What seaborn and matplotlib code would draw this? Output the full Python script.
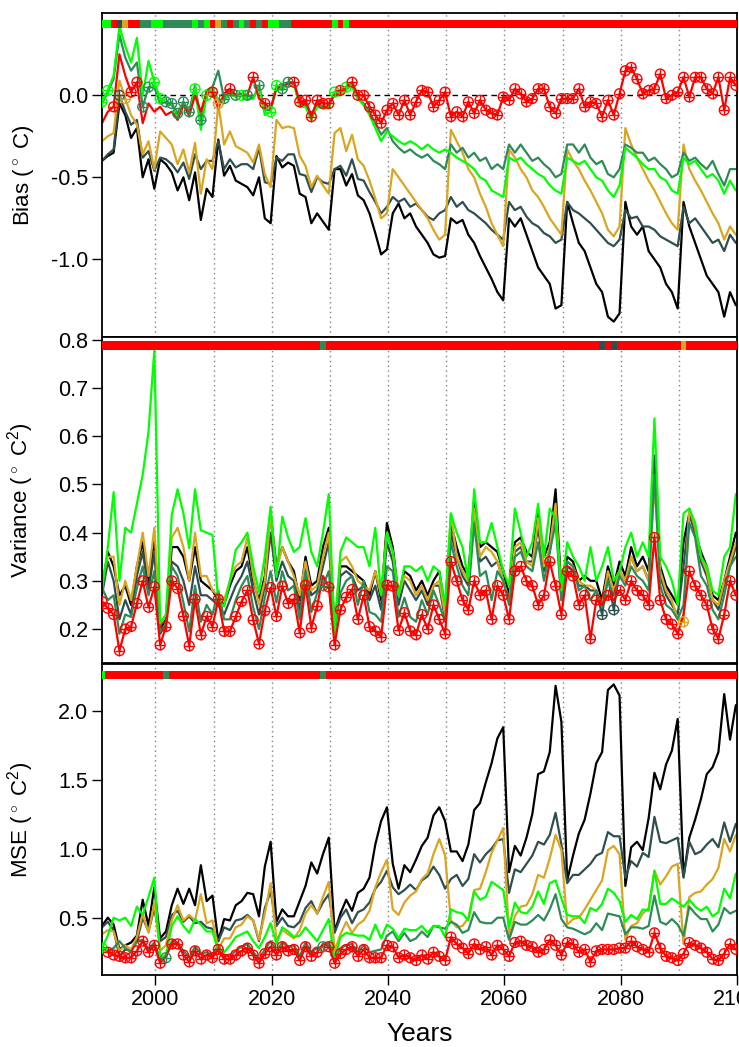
import numpy as np
import pandas as pd
import matplotlib
matplotlib.use('Agg')
import matplotlib.pyplot as plt
import seaborn as sns

# years 1991-2100, one value per year, rows are decades
years = np.arange(1991, 2101)
methods = ['black', 'darkslate', 'goldenrod', 'seagreen', 'green', 'red']
colours = {'black': '#000000', 'darkslate': '#2F4F4F', 'goldenrod': '#DAA520',
           'seagreen': '#2E8B57', 'green': '#00FF00', 'red': '#FF0000'}
code = {'k': 'black', 'd': 'darkslate', 'o': 'goldenrod', 's': 'seagreen', 'g': 'green', 'r': 'red'}

# ---- bias ----
bias_black = [
    -0.40, -0.37, -0.35, -0.05, -0.12, -0.26, -0.20, -0.50, -0.39, -0.57,
    -0.39, -0.42, -0.47, -0.58, -0.50, -0.64, -0.47, -0.76, -0.57, -0.62,
    -0.27, -0.49, -0.43, -0.52, -0.54, -0.56, -0.61, -0.50, -0.75, -0.78,
    -0.37, -0.44, -0.41, -0.43, -0.60, -0.62, -0.78, -0.72, -0.77, -0.82,
    -0.45, -0.45, -0.55, -0.48, -0.61, -0.64, -0.72, -0.84, -0.97, -0.94,
    -0.72, -0.66, -0.75, -0.72, -0.80, -0.85, -0.90, -0.97, -0.99, -0.98,
    -0.75, -0.78, -0.76, -0.85, -0.90, -0.98, -1.05, -1.12, -1.20, -1.25,
    -0.75, -0.80, -0.75, -0.85, -0.95, -1.05, -1.10, -1.15, -1.30, -1.28,
    -0.65, -0.78, -0.90, -0.95, -1.05, -1.15, -1.20, -1.35, -1.38, -1.33,
    -0.65, -0.80, -0.85, -0.80, -0.95, -1.00, -1.05, -1.15, -1.20, -1.30,
    -0.65, -0.80, -0.90, -1.00, -1.10, -1.15, -1.20, -1.35, -1.20, -1.28]
bias_darkslate = [
    -0.40, -0.36, -0.33, 0.00, -0.10, -0.18, -0.15, -0.38, -0.34, -0.46,
    -0.38, -0.39, -0.42, -0.47, -0.41, -0.51, -0.36, -0.45, -0.40, -0.40,
    -0.28, -0.45, -0.39, -0.44, -0.42, -0.42, -0.45, -0.32, -0.53, -0.54,
    -0.38, -0.40, -0.36, -0.36, -0.48, -0.49, -0.59, -0.50, -0.53, -0.54,
    -0.45, -0.43, -0.49, -0.39, -0.51, -0.52, -0.59, -0.65, -0.72, -0.68,
    -0.62, -0.65, -0.63, -0.68, -0.66, -0.70, -0.74, -0.76, -0.72, -0.70,
    -0.62, -0.68, -0.65, -0.70, -0.72, -0.75, -0.78, -0.82, -0.85, -0.88,
    -0.65, -0.70, -0.68, -0.74, -0.78, -0.80, -0.84, -0.86, -0.90, -0.88,
    -0.65, -0.70, -0.72, -0.75, -0.78, -0.82, -0.86, -0.90, -0.92, -0.88,
    -0.70, -0.75, -0.74, -0.80, -0.80, -0.82, -0.86, -0.88, -0.90, -0.92,
    -0.68, -0.78, -0.75, -0.80, -0.85, -0.90, -0.88, -0.95, -0.85, -0.90]
bias_goldenrod = [
    -0.28, -0.25, -0.23, 0.09, -0.02, -0.12, -0.18, -0.36, -0.28, -0.45,
    -0.22, -0.26, -0.30, -0.42, -0.33, -0.47, -0.29, -0.60, -0.39, -0.45,
    -0.05, -0.30, -0.22, -0.31, -0.33, -0.35, -0.41, -0.30, -0.48, -0.56,
    -0.15, -0.20, -0.19, -0.20, -0.37, -0.43, -0.56, -0.49, -0.55, -0.60,
    -0.23, -0.20, -0.34, -0.24, -0.39, -0.43, -0.52, -0.63, -0.75, -0.72,
    -0.45, -0.50, -0.55, -0.60, -0.65, -0.70, -0.75, -0.82, -0.88, -0.85,
    -0.21, -0.28, -0.35, -0.45, -0.50, -0.60, -0.68, -0.78, -0.85, -0.92,
    -0.33, -0.38, -0.45, -0.50, -0.58, -0.62, -0.68, -0.75, -0.80, -0.85,
    -0.33, -0.40, -0.45, -0.52, -0.58, -0.65, -0.72, -0.82, -0.86, -0.80,
    -0.20, -0.30, -0.38, -0.45, -0.52, -0.58, -0.65, -0.72, -0.78, -0.82,
    -0.30, -0.45, -0.52, -0.58, -0.65, -0.72, -0.78, -0.88, -0.80, -0.85]
bias_seagreen = [
    -0.05, 0.02, 0.10, 0.37, 0.23, 0.15, 0.20, -0.07, 0.05, 0.05,
    -0.05, -0.04, -0.05, -0.11, -0.04, -0.10, 0.06, -0.15, 0.03, 0.05,
    0.15, -0.02, 0.03, 0.00, 0.01, 0.00, -0.02, 0.06, -0.09, -0.09,
    0.06, 0.04, 0.08, 0.08, -0.06, -0.05, -0.12, -0.05, -0.07, -0.07,
    0.02, 0.01, 0.04, 0.06, -0.02, -0.05, -0.10, -0.17, -0.24, -0.20,
    -0.28, -0.32, -0.35, -0.33, -0.36, -0.38, -0.36, -0.40, -0.42, -0.45,
    -0.30, -0.35, -0.32, -0.38, -0.35, -0.40, -0.38, -0.45, -0.42, -0.45,
    -0.30, -0.35, -0.30, -0.35, -0.40, -0.38, -0.42, -0.45, -0.50, -0.48,
    -0.30, -0.30, -0.35, -0.30, -0.38, -0.42, -0.40, -0.48, -0.50, -0.45,
    -0.30, -0.32, -0.35, -0.35, -0.40, -0.38, -0.42, -0.45, -0.50, -0.48,
    -0.35, -0.40, -0.38, -0.42, -0.45, -0.40, -0.48, -0.55, -0.45, -0.45]
bias_green = [
    -0.04, 0.03, 0.12, 0.42, 0.30, 0.20, 0.35, 0.00, 0.21, 0.08,
    -0.02, -0.05, -0.06, -0.13, -0.05, -0.13, 0.04, -0.21, 0.00, 0.05,
    -0.03, -0.03, 0.01, -0.01, 0.00, -0.02, -0.02, 0.05, -0.12, -0.10,
    0.06, 0.03, 0.08, 0.07, -0.07, -0.07, -0.15, -0.07, -0.08, -0.08,
    0.02, 0.00, 0.05, 0.05, -0.02, -0.06, -0.12, -0.20, -0.28, -0.22,
    -0.25, -0.28, -0.30, -0.28, -0.30, -0.33, -0.30, -0.33, -0.35, -0.33,
    -0.35, -0.38, -0.40, -0.42, -0.45, -0.50, -0.52, -0.58, -0.60, -0.62,
    -0.38, -0.40, -0.38, -0.42, -0.45, -0.48, -0.50, -0.55, -0.58, -0.60,
    -0.38, -0.40, -0.42, -0.40, -0.45, -0.50, -0.52, -0.58, -0.62, -0.55,
    -0.32, -0.35, -0.38, -0.42, -0.45, -0.45, -0.50, -0.52, -0.58, -0.60,
    -0.38, -0.42, -0.40, -0.45, -0.50, -0.48, -0.52, -0.60, -0.52, -0.58]
bias_red = [
    -0.17, -0.10, -0.07, 0.25, 0.12, 0.02, 0.08, -0.17, -0.05, -0.10,
    -0.07, -0.12, -0.10, -0.15, -0.06, -0.12, 0.00, -0.10, 0.02, 0.02,
    -0.08, 0.01, 0.04, 0.00, 0.00, 0.00, 0.11, -0.02, -0.05, -0.08,
    0.04, 0.06, 0.07, 0.08, -0.04, -0.03, -0.13, -0.03, -0.05, -0.05,
    0.00, 0.03, 0.05, 0.08, 0.00, 0.00, -0.07, -0.12, -0.17, -0.09,
    -0.05, -0.12, -0.03, -0.12, -0.04, 0.03, 0.02, -0.07, -0.03, 0.02,
    -0.13, -0.10, -0.13, -0.04, -0.11, -0.03, -0.09, -0.11, -0.12, -0.01,
    -0.03, 0.04, 0.01, -0.04, -0.02, 0.04, 0.04, -0.07, -0.11, -0.02,
    -0.02, -0.02, 0.04, -0.07, -0.04, -0.05, -0.13, -0.03, -0.12, 0.01,
    0.15, 0.17, 0.10, 0.01, 0.03, 0.04, 0.13, -0.02, 0.00, 0.02,
    0.11, -0.01, 0.11, 0.11, 0.04, 0.01, 0.11, -0.09, 0.11, 0.06]

# ---- variance ----
var_black = [
    0.28, 0.36, 0.33, 0.27, 0.29, 0.25, 0.33, 0.38, 0.29, 0.39,
    0.20, 0.22, 0.37, 0.37, 0.35, 0.30, 0.37, 0.30, 0.29, 0.28,
    0.26, 0.25, 0.29, 0.32, 0.33, 0.37, 0.30, 0.26, 0.31, 0.44,
    0.33, 0.37, 0.34, 0.32, 0.26, 0.35, 0.29, 0.30, 0.37, 0.41,
    0.20, 0.33, 0.33, 0.32, 0.31, 0.30, 0.27, 0.32, 0.26, 0.42,
    0.37, 0.27, 0.32, 0.31, 0.28, 0.30, 0.27, 0.30, 0.32, 0.24,
    0.42, 0.37, 0.33, 0.31, 0.47, 0.37, 0.38, 0.37, 0.36, 0.32,
    0.27, 0.38, 0.39, 0.36, 0.35, 0.44, 0.35, 0.38, 0.49, 0.28,
    0.35, 0.34, 0.30, 0.31, 0.30, 0.30, 0.26, 0.33, 0.29, 0.34,
    0.31, 0.37, 0.33, 0.35, 0.32, 0.55, 0.33, 0.29, 0.27, 0.25,
    0.38, 0.44, 0.40, 0.36, 0.33, 0.27, 0.26, 0.30, 0.35, 0.40]
var_darkslate = [
    0.270, 0.340, 0.300, 0.220, 0.260, 0.230, 0.310, 0.360, 0.280, 0.360,
    0.190, 0.210, 0.340, 0.330, 0.300, 0.250, 0.330, 0.270, 0.270, 0.260,
    0.250, 0.230, 0.260, 0.290, 0.310, 0.340, 0.280, 0.230, 0.290, 0.400,
    0.300, 0.340, 0.310, 0.300, 0.240, 0.330, 0.270, 0.280, 0.330, 0.380,
    0.190, 0.310, 0.320, 0.310, 0.280, 0.290, 0.260, 0.290, 0.240, 0.380,
    0.340, 0.250, 0.300, 0.280, 0.260, 0.280, 0.250, 0.290, 0.290, 0.220,
    0.400, 0.350, 0.310, 0.290, 0.440, 0.340, 0.350, 0.330, 0.340, 0.300,
    0.260, 0.360, 0.370, 0.340, 0.340, 0.410, 0.320, 0.360, 0.450, 0.260,
    0.330, 0.320, 0.290, 0.290, 0.280, 0.280, 0.230, 0.310, 0.240, 0.320,
    0.300, 0.350, 0.320, 0.330, 0.300, 0.560, 0.310, 0.270, 0.250, 0.230,
    0.330, 0.440, 0.400, 0.340, 0.310, 0.260, 0.240, 0.290, 0.330, 0.370]
var_goldenrod = [
    0.30, 0.35, 0.35, 0.25, 0.30, 0.26, 0.33, 0.40, 0.31, 0.41,
    0.21, 0.23, 0.39, 0.41, 0.37, 0.30, 0.40, 0.31, 0.31, 0.28,
    0.27, 0.26, 0.30, 0.33, 0.34, 0.39, 0.31, 0.25, 0.30, 0.44,
    0.32, 0.37, 0.34, 0.31, 0.27, 0.34, 0.28, 0.29, 0.35, 0.40,
    0.21, 0.34, 0.35, 0.33, 0.30, 0.29, 0.28, 0.32, 0.27, 0.40,
    0.36, 0.27, 0.31, 0.30, 0.27, 0.29, 0.26, 0.29, 0.30, 0.23,
    0.44, 0.35, 0.32, 0.30, 0.45, 0.35, 0.37, 0.36, 0.34, 0.30,
    0.26, 0.37, 0.38, 0.34, 0.33, 0.43, 0.33, 0.37, 0.46, 0.27,
    0.34, 0.33, 0.30, 0.29, 0.29, 0.28, 0.25, 0.32, 0.28, 0.32,
    0.30, 0.35, 0.32, 0.33, 0.30, 0.50, 0.32, 0.28, 0.26, 0.22,
    0.215, 0.45, 0.41, 0.35, 0.32, 0.26, 0.25, 0.30, 0.34, 0.38]
var_seagreen = [
    0.285, 0.260, 0.270, 0.190, 0.230, 0.225, 0.285, 0.330, 0.270, 0.320,
    0.195, 0.210, 0.330, 0.310, 0.255, 0.195, 0.290, 0.215, 0.250, 0.230,
    0.280, 0.220, 0.220, 0.260, 0.290, 0.310, 0.245, 0.200, 0.265, 0.320,
    0.255, 0.320, 0.280, 0.290, 0.220, 0.320, 0.235, 0.275, 0.290, 0.320,
    0.195, 0.275, 0.300, 0.310, 0.250, 0.300, 0.235, 0.230, 0.215, 0.330,
    0.320, 0.225, 0.265, 0.225, 0.215, 0.260, 0.230, 0.280, 0.250, 0.215,
    0.380, 0.330, 0.290, 0.270, 0.420, 0.310, 0.320, 0.260, 0.320, 0.300,
    0.250, 0.350, 0.360, 0.330, 0.320, 0.380, 0.300, 0.360, 0.420, 0.260,
    0.340, 0.330, 0.280, 0.290, 0.260, 0.280, 0.245, 0.300, 0.270, 0.310,
    0.290, 0.330, 0.310, 0.300, 0.280, 0.520, 0.290, 0.250, 0.240, 0.220,
    0.250, 0.420, 0.390, 0.310, 0.290, 0.240, 0.220, 0.270, 0.330, 0.350]
var_green = [
    0.280, 0.370, 0.484, 0.300, 0.410, 0.400, 0.460, 0.520, 0.610, 0.779,
    0.212, 0.230, 0.437, 0.490, 0.440, 0.368, 0.490, 0.405, 0.400, 0.395,
    0.260, 0.247, 0.300, 0.364, 0.380, 0.400, 0.330, 0.277, 0.350, 0.454,
    0.308, 0.433, 0.390, 0.360, 0.370, 0.430, 0.360, 0.330, 0.400, 0.480,
    0.190, 0.360, 0.390, 0.380, 0.370, 0.370, 0.330, 0.410, 0.270, 0.400,
    0.360, 0.270, 0.330, 0.330, 0.320, 0.330, 0.300, 0.330, 0.320, 0.250,
    0.440, 0.400, 0.370, 0.300, 0.490, 0.380, 0.380, 0.420, 0.370, 0.320,
    0.290, 0.450, 0.400, 0.350, 0.380, 0.460, 0.350, 0.450, 0.430, 0.280,
    0.380, 0.350, 0.330, 0.300, 0.370, 0.300, 0.330, 0.370, 0.300, 0.320,
    0.370, 0.400, 0.350, 0.380, 0.350, 0.637, 0.350, 0.330, 0.300, 0.250,
    0.440, 0.450, 0.420, 0.350, 0.330, 0.280, 0.270, 0.350, 0.370, 0.480]
var_red = [
    0.257, 0.243, 0.230, 0.155, 0.200, 0.205, 0.253, 0.300, 0.245, 0.288,
    0.167, 0.205, 0.300, 0.284, 0.227, 0.165, 0.262, 0.188, 0.226, 0.205,
    0.262, 0.195, 0.195, 0.226, 0.257, 0.280, 0.219, 0.169, 0.238, 0.286,
    0.226, 0.289, 0.253, 0.262, 0.192, 0.291, 0.203, 0.248, 0.310, 0.287,
    0.167, 0.240, 0.266, 0.282, 0.220, 0.270, 0.205, 0.196, 0.183, 0.291,
    0.289, 0.197, 0.234, 0.196, 0.188, 0.230, 0.200, 0.250, 0.220, 0.190,
    0.340, 0.300, 0.260, 0.240, 0.300, 0.270, 0.280, 0.220, 0.290, 0.270,
    0.220, 0.320, 0.330, 0.300, 0.290, 0.250, 0.270, 0.340, 0.290, 0.230,
    0.320, 0.310, 0.250, 0.270, 0.180, 0.260, 0.250, 0.270, 0.260, 0.280,
    0.260, 0.300, 0.280, 0.270, 0.250, 0.390, 0.260, 0.220, 0.210, 0.190,
    0.230, 0.320, 0.290, 0.270, 0.250, 0.200, 0.180, 0.230, 0.300, 0.270]

# ---- MSE ----
mse_black = [
    0.44, 0.50, 0.45, 0.27, 0.30, 0.32, 0.37, 0.63, 0.44, 0.72,
    0.35, 0.40, 0.59, 0.71, 0.60, 0.71, 0.59, 0.88, 0.62, 0.66,
    0.33, 0.49, 0.48, 0.59, 0.62, 0.68, 0.67, 0.51, 0.87, 1.05,
    0.47, 0.56, 0.51, 0.51, 0.62, 0.73, 0.90, 0.82, 0.96, 1.08,
    0.40, 0.53, 0.63, 0.55, 0.68, 0.71, 0.79, 1.03, 1.20, 1.30,
    0.89, 0.71, 0.88, 0.83, 0.92, 1.02, 1.08, 1.24, 1.30, 1.20,
    0.98, 0.98, 0.91, 1.03, 1.28, 1.33, 1.48, 1.62, 1.80, 1.88,
    0.83, 1.02, 0.95, 1.08, 1.25, 1.54, 1.56, 1.70, 2.18, 1.92,
    0.77, 0.95, 1.11, 1.21, 1.40, 1.62, 1.70, 2.15, 2.19, 2.11,
    0.73, 1.01, 1.05, 0.99, 1.22, 1.55, 1.43, 1.61, 1.71, 1.94,
    0.80, 1.08, 1.21, 1.36, 1.54, 1.59, 1.70, 2.12, 1.79, 2.04]
mse_darkslate = [
    0.43, 0.47, 0.41, 0.22, 0.27, 0.26, 0.33, 0.50, 0.40, 0.57,
    0.33, 0.36, 0.52, 0.55, 0.47, 0.51, 0.46, 0.47, 0.43, 0.42,
    0.33, 0.43, 0.41, 0.48, 0.49, 0.52, 0.48, 0.33, 0.57, 0.69,
    0.44, 0.50, 0.44, 0.43, 0.47, 0.57, 0.62, 0.53, 0.61, 0.67,
    0.39, 0.50, 0.56, 0.46, 0.54, 0.56, 0.61, 0.71, 0.76, 0.84,
    0.72, 0.67, 0.70, 0.74, 0.70, 0.77, 0.80, 0.87, 0.81, 0.71,
    0.78, 0.81, 0.73, 0.78, 0.96, 0.90, 0.96, 1.00, 1.06, 1.07,
    0.68, 0.85, 0.83, 0.89, 0.95, 1.05, 1.03, 1.10, 1.26, 1.03,
    0.75, 0.81, 0.81, 0.85, 0.89, 0.95, 0.97, 1.12, 1.09, 1.09,
    0.79, 0.91, 0.87, 0.97, 0.94, 1.23, 1.05, 1.04, 1.06, 1.08,
    0.79, 1.05, 0.96, 0.98, 1.03, 1.07, 1.01, 1.19, 1.05, 1.18]
mse_goldenrod = [
    0.38, 0.41, 0.40, 0.26, 0.30, 0.27, 0.36, 0.53, 0.39, 0.61,
    0.26, 0.30, 0.48, 0.59, 0.48, 0.52, 0.48, 0.67, 0.46, 0.48,
    0.27, 0.35, 0.35, 0.43, 0.45, 0.51, 0.48, 0.34, 0.53, 0.75,
    0.34, 0.41, 0.38, 0.35, 0.41, 0.53, 0.59, 0.53, 0.65, 0.76,
    0.26, 0.38, 0.47, 0.39, 0.45, 0.48, 0.55, 0.72, 0.83, 0.92,
    0.56, 0.52, 0.61, 0.66, 0.69, 0.78, 0.82, 0.96, 1.07, 0.95,
    0.48, 0.43, 0.44, 0.50, 0.70, 0.71, 0.83, 0.97, 1.06, 1.15,
    0.37, 0.51, 0.58, 0.59, 0.67, 0.81, 0.79, 0.93, 1.10, 0.99,
    0.45, 0.49, 0.50, 0.56, 0.63, 0.70, 0.77, 0.99, 1.02, 0.96,
    0.34, 0.44, 0.46, 0.53, 0.57, 0.84, 0.74, 0.80, 0.87, 0.89,
    0.31, 0.65, 0.68, 0.69, 0.74, 0.78, 0.86, 1.07, 0.98, 1.10]
mse_seagreen = [
    0.29, 0.26, 0.28, 0.33, 0.28, 0.25, 0.33, 0.34, 0.27, 0.32,
    0.20, 0.21, 0.33, 0.32, 0.26, 0.21, 0.29, 0.24, 0.25, 0.23,
    0.30, 0.22, 0.22, 0.26, 0.29, 0.31, 0.25, 0.20, 0.27, 0.33,
    0.26, 0.32, 0.29, 0.30, 0.22, 0.32, 0.25, 0.28, 0.29, 0.32,
    0.20, 0.28, 0.30, 0.31, 0.25, 0.30, 0.25, 0.26, 0.27, 0.37,
    0.40, 0.33, 0.39, 0.33, 0.35, 0.40, 0.36, 0.44, 0.43, 0.42,
    0.47, 0.45, 0.39, 0.41, 0.54, 0.47, 0.46, 0.46, 0.50, 0.50,
    0.34, 0.47, 0.45, 0.45, 0.48, 0.52, 0.48, 0.56, 0.67, 0.49,
    0.43, 0.42, 0.40, 0.38, 0.40, 0.46, 0.41, 0.53, 0.52, 0.51,
    0.38, 0.43, 0.43, 0.42, 0.44, 0.66, 0.47, 0.45, 0.49, 0.45,
    0.37, 0.58, 0.53, 0.49, 0.49, 0.40, 0.45, 0.57, 0.53, 0.55]
mse_green = [
    0.28, 0.37, 0.50, 0.48, 0.50, 0.44, 0.58, 0.52, 0.65, 0.79,
    0.21, 0.23, 0.44, 0.51, 0.44, 0.39, 0.49, 0.45, 0.40, 0.40,
    0.26, 0.25, 0.30, 0.36, 0.38, 0.40, 0.33, 0.28, 0.36, 0.46,
    0.31, 0.43, 0.40, 0.36, 0.37, 0.43, 0.38, 0.33, 0.41, 0.49,
    0.19, 0.36, 0.39, 0.38, 0.37, 0.37, 0.34, 0.45, 0.35, 0.45,
    0.42, 0.35, 0.42, 0.41, 0.41, 0.44, 0.39, 0.44, 0.44, 0.36,
    0.56, 0.54, 0.53, 0.48, 0.69, 0.63, 0.65, 0.76, 0.73, 0.70,
    0.43, 0.61, 0.54, 0.53, 0.58, 0.69, 0.60, 0.75, 0.77, 0.64,
    0.52, 0.51, 0.51, 0.46, 0.57, 0.55, 0.60, 0.71, 0.68, 0.62,
    0.47, 0.52, 0.49, 0.56, 0.55, 0.84, 0.60, 0.60, 0.64, 0.61,
    0.58, 0.63, 0.58, 0.55, 0.58, 0.51, 0.54, 0.71, 0.64, 0.82]
mse_red = [
    0.29, 0.25, 0.23, 0.22, 0.21, 0.21, 0.26, 0.33, 0.25, 0.30,
    0.17, 0.22, 0.31, 0.31, 0.23, 0.18, 0.26, 0.20, 0.23, 0.21,
    0.27, 0.20, 0.20, 0.23, 0.26, 0.28, 0.23, 0.17, 0.24, 0.29,
    0.23, 0.29, 0.26, 0.27, 0.19, 0.29, 0.22, 0.25, 0.31, 0.29,
    0.17, 0.24, 0.27, 0.29, 0.22, 0.27, 0.21, 0.21, 0.21, 0.30,
    0.29, 0.21, 0.23, 0.21, 0.19, 0.23, 0.20, 0.25, 0.22, 0.19,
    0.36, 0.31, 0.28, 0.24, 0.31, 0.27, 0.29, 0.23, 0.30, 0.27,
    0.22, 0.32, 0.33, 0.30, 0.29, 0.25, 0.27, 0.34, 0.30, 0.23,
    0.32, 0.31, 0.25, 0.27, 0.18, 0.26, 0.27, 0.27, 0.27, 0.28,
    0.28, 0.33, 0.29, 0.27, 0.25, 0.39, 0.28, 0.22, 0.21, 0.19,
    0.24, 0.32, 0.30, 0.28, 0.25, 0.20, 0.19, 0.24, 0.31, 0.27]

# best method per year (k black, d darkslate, o goldenrod, s seagreen, g green, r red)
best_bias = list('ggrdorrssg' 'gsssssgsgr' 'osrsgsrsrg' 'gssrrrrrrr' 'grgrrrrrrr'
                 'rrrrrrrrrr' 'rrrrrrrrrr' 'rrrrrrrrrr' 'rrrrrrrrrr' 'rrrrrrrrrr' 'rrrrrrrrrr')
best_var = list('rrrrrrrrrr' 'rrrrrrrrrr' 'rrrrrrrrrr' 'rrrrrrrrsr' 'rrrrrrrrrr'
                'rrrrrrrrrr' 'rrrrrrrrrr' 'rrrrrrrrrr' 'rrrrrrdrdr' 'rrrrrrrrrr' 'orrrrrrrrr')
best_mse = list('grrrrrrrrr' 'rsrrrrrrrr' 'rrrrrrrrrr' 'rrrrrrrrsr' 'rrrrrrrrrr'
                'rrrrrrrrrr' 'rrrrrrrrrr' 'rrrrrrrrrr' 'rrrrrrrrrr' 'rrrrrrrrrr' 'rrrrrrrrrr')

bias = dict(zip(methods, [bias_black, bias_darkslate, bias_goldenrod, bias_seagreen, bias_green, bias_red]))
var = dict(zip(methods, [var_black, var_darkslate, var_goldenrod, var_seagreen, var_green, var_red]))
mse = dict(zip(methods, [mse_black, mse_darkslate, mse_goldenrod, mse_seagreen, mse_green, mse_red]))

decades = [2000, 2010, 2020, 2030, 2040, 2050, 2060, 2070, 2080, 2090]
xpos = years - 0.2

sns.set_style('white')
plt.rcParams['font.family'] = ['Liberation Sans', 'DejaVu Sans']
plt.rcParams['mathtext.fontset'] = 'custom'
plt.rcParams['mathtext.rm'] = 'Liberation Sans'
plt.rcParams['axes.unicode_minus'] = False
plt.rcParams['text.color'] = 'black'
plt.rcParams['axes.labelcolor'] = 'black'
plt.rcParams['xtick.color'] = 'black'
plt.rcParams['ytick.color'] = 'black'

fig = plt.figure(figsize=(7.39, 10.47), dpi=100)
ax1 = fig.add_axes([0.1384, 0.6784, 0.8589, 0.3089])
ax2 = fig.add_axes([0.1384, 0.3668, 0.8589, 0.3111])
ax3 = fig.add_axes([0.1384, 0.0688, 0.8589, 0.2970])


def panel(ax, series, best, ylim, yticks, ylabel, strip_bottom):
    for d in decades:
        ax.axvline(d, color='#808080', ls=(0, (1, 2.5)), lw=1, zorder=0)
    df = pd.DataFrame({
        'x': np.tile(xpos, len(methods)),
        'y': np.concatenate([series[m] for m in methods]),
        'method': np.repeat(methods, len(years)),
    })
    sns.lineplot(data=df, x='x', y='y', hue='method', hue_order=methods, palette=colours,
                 estimator=None, sort=False, lw=1.6, legend=False, ax=ax)
    by = [series[code[b]][i] for i, b in enumerate(best)]
    bc = [colours[code[b]] for b in best]
    ax.scatter(xpos, by, s=50, facecolors='none', edgecolors=bc, linewidths=1.0, zorder=5)
    ax.scatter(xpos, by, s=50, marker='+', c=bc, linewidths=1.0, zorder=5)
    ax.bar(xpos, 0.025, bottom=strip_bottom, width=1.0, color=bc, lw=0,
           transform=ax.get_xaxis_transform(), zorder=6)
    ax.set_xlim(1990.85, 2100)
    ax.set_ylim(*ylim)
    ax.set_yticks(yticks)
    ax.set_yticklabels(['%.1f' % t for t in yticks])
    ax.set_ylabel(ylabel, fontsize=16, color='black')
    ax.yaxis.set_label_coords(-0.104, 0.5)
    ax.set_xlabel('')
    ax.tick_params(axis='y', direction='out', length=7, width=1, labelsize=15.5, pad=3,
                   left=True, colors='black')
    for s in ax.spines.values():
        s.set_color('black')
        s.set_linewidth(1.3)


panel(ax1, bias, best_bias, (-1.472, 0.5), [-1.0, -0.5, 0.0], r'Bias ($^\circ$ C)', 0.955)
ax1.axhline(0, color='black', ls=(0, (4, 3)), lw=1, zorder=1)
panel(ax2, var, best_var, (0.1295, 0.8056), [0.2, 0.3, 0.4, 0.5, 0.6, 0.7, 0.8],
      r'Variance ($^\circ$ C$^2$)', 0.962)
panel(ax3, mse, best_mse, (0.085, 2.338), [0.5, 1.0, 1.5, 2.0], r'MSE ($^\circ$ C$^2$)', 0.953)

for ax in (ax1, ax2):
    ax.tick_params(axis='x', bottom=False, labelbottom=False)
ax3.set_xticks([2000, 2020, 2040, 2060, 2080, 2100])
ax3.tick_params(axis='x', direction='out', length=7, width=1, labelsize=15.5, pad=3,
                bottom=True, colors='black')
ax3.set_xlabel('Years', fontsize=19, color='black')
ax3.xaxis.set_label_coords(0.5, -0.15)

fig.savefig('out.png', dpi=100, facecolor='white')
